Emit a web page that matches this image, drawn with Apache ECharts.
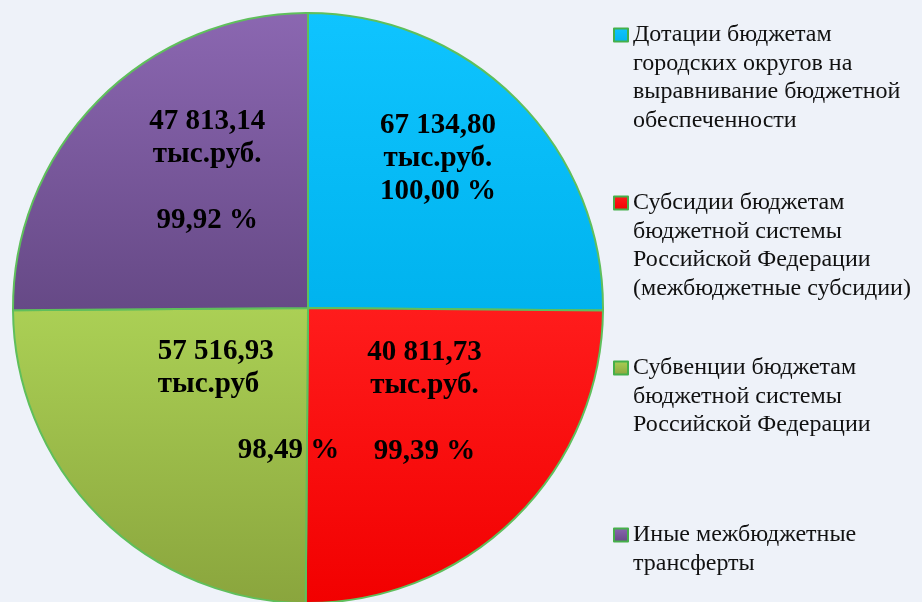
<!DOCTYPE html>
<html>
<head>
<meta charset="utf-8">
<script src="https://cdn.jsdelivr.net/npm/echarts@6/dist/echarts.min.js"></script>
<style>
  html, body { margin: 0; padding: 0; background: #eef2f9; }
  #chart { width: 922px; height: 602px; }
</style>
</head>
<body>
<div id="chart"></div>
<script>
// статьи (подписи легенды, переносы как на слайде)
var categories = [
  'Дотации бюджетам\nгородских округов на\nвыравнивание бюджетной\nобеспеченности',
  'Субсидии бюджетам\nбюджетной системы\nРоссийской Федерации\n(межбюджетные субсидии)',
  'Субвенции бюджетам\nбюджетной системы\nРоссийской Федерации',
  'Иные межбюджетные\nтрансферты'
]
// исполнено, тыс.руб.
var amounts = [67134.80, 40811.73, 57516.93, 47813.14]
// процент исполнения (он же размер сектора)
var percents = [100.00, 99.39, 98.49, 99.92]
var units = ['тыс.руб.', 'тыс.руб.', 'тыс.руб', 'тыс.руб.']

// цвета секторов: [верх, низ]
var colors = [
  ['#0fc4ff', '#00b3ee'],
  ['#ff1c1c', '#f20000'],
  ['#abd055', '#8aa53d'],
  ['#8b67b1', '#664986']
]
// сдвиг подписей внутри секторов
var labelShift = [[23, -44], [11, -13], [47, -13], [6, -31]]
// центр значка легенды по вертикали
var legendIconY = [35, 203, 368, 535]
var legendLH = 28.5

var serif = '"Liberation Serif", "Times New Roman", serif'

function fmt(v) {
  var s = v.toFixed(2).split('.')
  return s[0].replace(/\B(?=(\d{3})+(?!\d))/g, ' ') + ',' + s[1]
}

function grad(c) {
  return new echarts.graphic.LinearGradient(0, 0, 0, 1, [
    { offset: 0, color: c[0] },
    { offset: 1, color: c[1] }
  ])
}

var chart = echarts.init(document.getElementById('chart'))

var bold = { fontFamily: serif, fontWeight: 'bold', fontSize: 29, lineHeight: 33, color: '#000' }

chart.setOption({
  backgroundColor: '#eef2f9',
  animation: false,
  legend: categories.map(function (name, i) {
    var n = name.split('\n').length
    return {
      data: [name],
      orient: 'vertical',
      left: 613,
      top: legendIconY[i] - (2 * n - 1) * legendLH / 2,
      padding: 0,
      icon: 'rect',
      itemWidth: 14,
      itemHeight: 13,
      itemStyle: { borderColor: '#45b04a', borderWidth: 2 },
      // пустые строки сверху, чтобы значок стоял у первой строки
      formatter: function (s) { return new Array(n).join('\n') + s },
      textStyle: { fontFamily: serif, fontSize: 24, lineHeight: legendLH, color: '#111' }
    }
  }),
  series: [{
    type: 'pie',
    center: [308, 308],
    radius: 295,
    startAngle: 90,
    clockwise: true,
    avoidLabelOverlap: false,
    emphasis: { scale: false },
    itemStyle: { borderColor: '#5fbf5c', borderWidth: 2 },
    label: {
      show: true,
      position: 'inside',
      lineHeight: 33,
      formatter: function (p) {
        var i = p.dataIndex
        var a = fmt(amounts[i]), u = units[i], pc = fmt(percents[i]) + ' %'
        if (i === 0) return '{c|' + a + '}\n{c|' + u + '}\n{c|' + pc + '}'
        if (i === 2) return '{l|' + a + '}\n{l|' + u + '}\n\n{r|' + pc + '}'
        return '{c|' + a + '}\n{c|' + u + '}\n\n{c|' + pc + '}'
      },
      rich: {
        c: Object.assign({ align: 'center' }, bold),
        l: Object.assign({ align: 'left' }, bold),
        r: Object.assign({ align: 'left', padding: [0, 0, 0, 80] }, bold)
      }
    },
    labelLine: { show: false },
    labelLayout: function (p) {
      var s = labelShift[p.dataIndex]
      return { dx: s[0], dy: s[1] }
    },
    data: categories.map(function (name, i) {
      return { name: name, value: percents[i], itemStyle: { color: grad(colors[i]) } }
    })
  }]
})
</script>
</body>
</html>
